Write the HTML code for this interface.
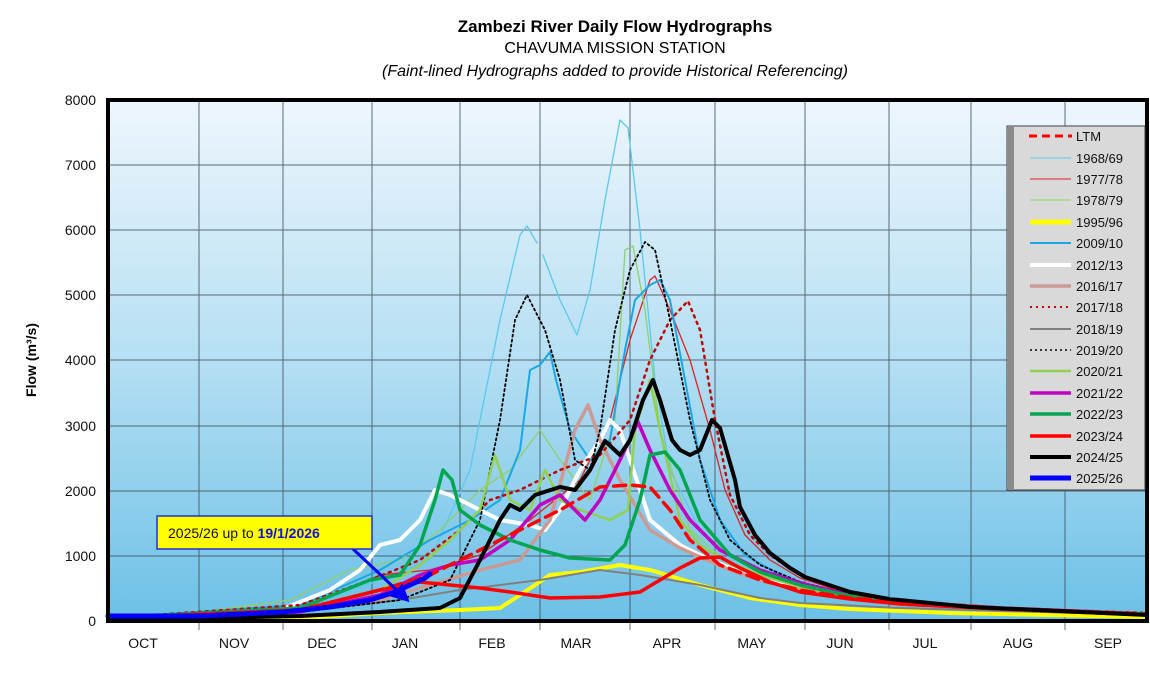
<!DOCTYPE html>
<html><head><meta charset="utf-8"><style>
body{margin:0;background:#fff;}
svg{display:block;font-family:"Liberation Sans",Arial,sans-serif;}
</style></head><body>
<svg width="1150" height="699" viewBox="0 0 1150 699" xmlns="http://www.w3.org/2000/svg">
<defs>
<linearGradient id="bg" x1="0" y1="0" x2="0" y2="1">
<stop offset="0" stop-color="#eef6fc"/><stop offset="0.5" stop-color="#b5dff3"/><stop offset="1" stop-color="#6cc0e6"/>
</linearGradient>
<marker id="ah" markerWidth="6" markerHeight="6" refX="3" refY="3" orient="auto"><path d="M0,0 L6,3 L0,6z" fill="#0000ff"/></marker>
</defs>
<text x="615" y="32" font-size="17" font-weight="bold" text-anchor="middle">Zambezi River Daily Flow Hydrographs</text>
<text x="615" y="53" font-size="16" text-anchor="middle">CHAVUMA MISSION STATION</text>
<text x="615" y="76" font-size="16" font-style="italic" text-anchor="middle">(Faint-lined Hydrographs added to provide Historical Referencing)</text>
<rect x="108" y="100" width="1039" height="521" fill="url(#bg)"/>
<g stroke="#3a4a55" stroke-width="1" opacity="0.8">
<line x1="108" y1="165" x2="1147" y2="165"/><line x1="108" y1="230" x2="1147" y2="230"/>
<line x1="108" y1="295" x2="1147" y2="295"/><line x1="108" y1="360" x2="1147" y2="360"/>
<line x1="108" y1="426" x2="1147" y2="426"/><line x1="108" y1="491" x2="1147" y2="491"/>
<line x1="108" y1="556" x2="1147" y2="556"/>
<line x1="199" y1="100" x2="199" y2="630"/><line x1="283" y1="100" x2="283" y2="630"/>
<line x1="372" y1="100" x2="372" y2="630"/><line x1="460" y1="100" x2="460" y2="630"/>
<line x1="540" y1="100" x2="540" y2="630"/><line x1="630" y1="100" x2="630" y2="630"/>
<line x1="715" y1="100" x2="715" y2="630"/><line x1="805" y1="100" x2="805" y2="630"/>
<line x1="889" y1="100" x2="889" y2="630"/><line x1="971" y1="100" x2="971" y2="630"/>
<line x1="1065" y1="100" x2="1065" y2="630"/>
</g>
<g fill="none" stroke-linejoin="round" stroke-linecap="round">
<polyline stroke="#5bc8ef" stroke-width="1.3" points="108,618 300,610 380,580 430,560 470,470 500,320 520,235 527,226 537,243"/>
<polyline stroke="#5bc8ef" stroke-width="1.3" points="543,255 560,300 577,335 590,290 605,200 620,120 628,128 640,230 655,380 670,470 700,530 730,558 770,577 820,592 900,603 1000,609 1147,614"/>
<polyline stroke="#e02020" stroke-width="1.3" points="108,618 300,610 380,575 430,570 480,555 530,520 580,480 610,420 630,340 650,280 655,276 670,310 690,360 710,430 725,490 745,535 770,560 800,578 850,594 900,602 1000,608 1147,613"/>
<polyline stroke="#8fd06a" stroke-width="1.3" points="108,618 200,612 290,600 350,570 400,560 440,530 480,490 510,470 540,430 560,460 590,500 615,420 625,250 633,246 645,310 660,430 690,530 730,565 780,585 850,598 950,606 1147,613"/>
<polyline stroke="#ffff00" stroke-width="4" points="108,620 300,618 380,613 460,610 500,608 520,595 550,575 580,572 620,565 650,570 700,585 750,598 800,605 850,609 950,613 1147,617"/>
<polyline stroke="#1aa7e6" stroke-width="2" points="108,618 300,605 380,570 430,540 470,520 500,500 520,450 530,370 540,365 550,352 556,380 570,430 590,460 610,440 625,350 635,300 650,285 660,280 670,300 685,380 700,460 720,520 745,555 780,575 830,592 900,602 1000,609 1147,613"/>
<polyline stroke="#ffffff" stroke-width="4" points="108,618 280,610 330,590 360,570 380,545 400,540 410,530 420,520 435,490 450,495 470,505 500,520 530,525 545,530 560,510 580,470 600,440 610,420 620,430 630,460 650,520 680,545 700,555 730,568 770,582 820,594 900,603 1000,609 1147,614"/>
<polyline stroke="#cc9a94" stroke-width="3.5" points="108,618 300,610 380,600 430,585 480,570 520,560 550,520 575,430 588,405 600,440 620,480 650,530 680,548 700,557 730,570 770,583 820,594 900,603 1000,609 1147,614"/>
<polyline stroke="#c00000" stroke-width="2.5" stroke-dasharray="2,5" points="108,618 300,605 370,580 420,560 460,530 490,500 520,490 560,470 600,455 630,420 650,360 670,320 688,301 700,330 715,420 730,495 750,535 770,555 800,575 850,592 900,601 1000,608 1147,613"/>
<polyline stroke="#808080" stroke-width="2" points="108,618 300,612 400,600 460,590 500,585 540,580 600,570 640,575 700,585 760,598 800,603 900,608 1147,615"/>
<polyline stroke="#000" stroke-width="1.8" stroke-dasharray="2,3" points="108,618 300,612 400,600 450,580 480,520 500,420 515,320 527,295 545,330 560,380 575,460 590,470 600,430 615,330 630,270 645,242 655,250 670,320 690,420 710,500 730,540 760,565 800,582 850,594 900,602 1000,608 1147,613"/>
<polyline stroke="#92d050" stroke-width="2.5" points="108,618 300,610 380,590 420,565 450,540 480,510 495,455 510,500 530,510 545,470 560,500 580,510 610,520 628,510 635,430 650,380 660,430 680,520 700,545 720,558 760,575 800,587 850,597 950,606 1147,614"/>
<polyline stroke="#c000c0" stroke-width="3.5" points="108,618 300,612 380,595 420,575 450,565 480,560 510,540 540,505 560,495 585,520 600,500 620,460 638,422 650,450 670,490 690,520 720,550 760,570 800,583 850,595 900,602 1000,608 1147,614"/>
<polyline stroke="#00a550" stroke-width="3.5" points="108,618 300,608 370,580 400,575 420,545 435,500 443,470 452,480 460,510 480,525 510,540 540,550 570,558 610,560 625,545 640,500 650,455 665,452 680,470 700,520 730,555 760,572 800,585 850,596 900,603 1000,609 1147,614"/>
<polyline stroke="#ff0000" stroke-width="3.5" points="108,618 300,610 380,590 420,582 450,585 480,588 510,592 550,598 600,597 640,592 660,580 680,568 700,558 720,557 740,568 770,582 800,592 850,599 900,604 1000,609 1147,615"/>
<polyline stroke="#ff0000" stroke-width="3.5" stroke-dasharray="12,7" points="108,618 300,610 380,590 430,575 480,550 520,530 560,510 600,487 630,485 650,487 670,510 690,540 720,565 760,580 800,590 850,598 1000,608 1147,614"/>
<polyline stroke="#000" stroke-width="4" points="108,620 300,616 380,612 440,608 460,598 480,560 500,520 510,505 520,510 535,495 560,487 575,490 590,470 605,441 620,455 630,440 643,400 653,380 660,400 672,440 680,450 690,455 700,450 712,420 720,428 735,480 740,507 755,535 770,553 790,568 805,577 850,592 889,599 971,607 1147,615"/>
<polyline stroke="#0000ff" stroke-width="5" points="108,616 200,616 283,612 330,607 370,600 395,592 410,585 425,578 430,574"/>
</g>
<rect x="108" y="100" width="1039" height="521" fill="none" stroke="#000" stroke-width="4"/>
<g font-size="14" text-anchor="end" fill="#111">
<text x="96" y="105">8000</text><text x="96" y="170">7000</text><text x="96" y="235">6000</text>
<text x="96" y="300">5000</text><text x="96" y="365">4000</text><text x="96" y="431">3000</text>
<text x="96" y="496">2000</text><text x="96" y="561">1000</text><text x="96" y="626">0</text>
</g>
<g font-size="14" text-anchor="middle" fill="#111">
<text x="143" y="648">OCT</text><text x="234" y="648">NOV</text><text x="322" y="648">DEC</text>
<text x="405" y="648">JAN</text><text x="492" y="648">FEB</text><text x="576" y="648">MAR</text>
<text x="667" y="648">APR</text><text x="752" y="648">MAY</text><text x="840" y="648">JUN</text>
<text x="925" y="648">JUL</text><text x="1018" y="648">AUG</text><text x="1108" y="648">SEP</text>
</g>
<text transform="translate(36,360) rotate(-90)" font-size="14" font-weight="bold" text-anchor="middle">Flow (m³/s)</text>
<line x1="352" y1="548" x2="403" y2="596" stroke="#0000ff" stroke-width="3" marker-end="url(#ah)"/>
<rect x="157" y="516" width="215" height="33" fill="#ffff00" stroke="#2030d0" stroke-width="1.5"/>
<text x="168" y="538" font-size="14" fill="#111">2025/26 up to <tspan font-weight="bold" fill="#1010e0">19/1/2026</tspan></text>
<rect x="1007" y="126" width="138" height="364" fill="#d9d9d9" stroke="#404040" stroke-width="1"/>
<rect x="1008" y="127" width="6" height="362" fill="#8a8a8a"/>
<g font-size="13" fill="#111">
<line x1="1029" y1="136" x2="1072" y2="136" stroke="#ff0000" stroke-width="3" stroke-dasharray="8,5"/><text x="1076" y="141">LTM</text>
<line x1="1030" y1="158" x2="1071" y2="158" stroke="#5bc8ef" stroke-width="1"/><text x="1076" y="163">1968/69</text>
<line x1="1030" y1="179" x2="1071" y2="179" stroke="#e02020" stroke-width="1"/><text x="1076" y="184">1977/78</text>
<line x1="1030" y1="200" x2="1071" y2="200" stroke="#8fd06a" stroke-width="1"/><text x="1076" y="205">1978/79</text>
<line x1="1030" y1="222" x2="1071" y2="222" stroke="#ffff00" stroke-width="5"/><text x="1076" y="227">1995/96</text>
<line x1="1030" y1="243" x2="1071" y2="243" stroke="#1aa7e6" stroke-width="2"/><text x="1076" y="248">2009/10</text>
<line x1="1030" y1="265" x2="1071" y2="265" stroke="#fff" stroke-width="4"/><text x="1076" y="270">2012/13</text>
<line x1="1030" y1="286" x2="1071" y2="286" stroke="#cc9a94" stroke-width="3.5"/><text x="1076" y="291">2016/17</text>
<line x1="1030" y1="307" x2="1071" y2="307" stroke="#c00000" stroke-width="2" stroke-dasharray="2,4"/><text x="1076" y="312">2017/18</text>
<line x1="1030" y1="329" x2="1071" y2="329" stroke="#808080" stroke-width="2"/><text x="1076" y="334">2018/19</text>
<line x1="1030" y1="350" x2="1071" y2="350" stroke="#000" stroke-width="1.5" stroke-dasharray="2,3"/><text x="1076" y="355">2019/20</text>
<line x1="1030" y1="371" x2="1071" y2="371" stroke="#92d050" stroke-width="2.5"/><text x="1076" y="376">2020/21</text>
<line x1="1030" y1="393" x2="1071" y2="393" stroke="#c000c0" stroke-width="3.5"/><text x="1076" y="398">2021/22</text>
<line x1="1030" y1="414" x2="1071" y2="414" stroke="#00a550" stroke-width="3.5"/><text x="1076" y="419">2022/23</text>
<line x1="1030" y1="436" x2="1071" y2="436" stroke="#ff0000" stroke-width="3.5"/><text x="1076" y="441">2023/24</text>
<line x1="1030" y1="457" x2="1071" y2="457" stroke="#000" stroke-width="4"/><text x="1076" y="462">2024/25</text>
<line x1="1030" y1="478" x2="1071" y2="478" stroke="#0000ff" stroke-width="5"/><text x="1076" y="483">2025/26</text>
</g>
</svg>
</body></html>
